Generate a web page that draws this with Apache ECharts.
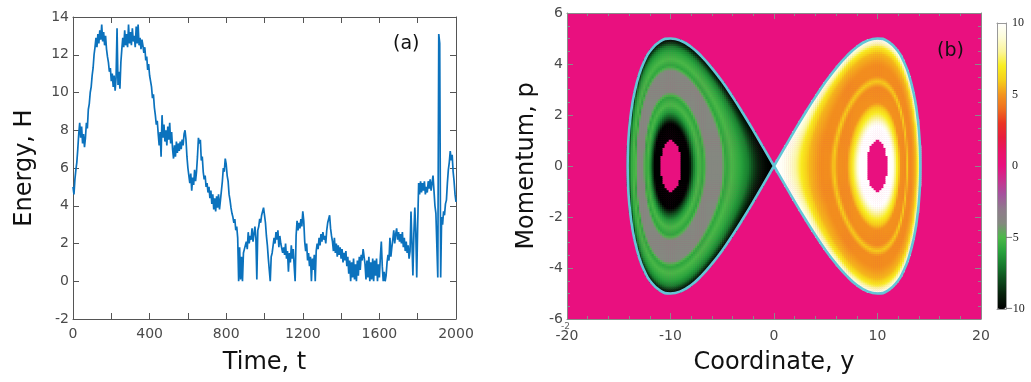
<!DOCTYPE html>
<html>
<head>
<meta charset="utf-8">
<script src="https://cdn.jsdelivr.net/npm/echarts@6/dist/echarts.min.js"></script>
<style>
  html, body { margin: 0; padding: 0; background: #fff; }
  #chart { width: 1031px; height: 382px; }
</style>
</head>
<body>
<div id="chart"></div>
<script>
// ---- panel (a): energy H against time t, one reading every 5 time units ----
const timeStep = 5
const energy = [
  5.0, 4.6, 5.4, 5.9, 6.3, 7.0, 7.8, 8.4, 7.6, 8.2, 7.3, 7.8, 7.1, 7.6, 8.4, 8.1, 9.1, 9.4, 10.0, 10.3,
  10.9, 11.3, 12.0, 12.4, 12.9, 12.4, 13.1, 12.6, 13.3, 12.8, 13.6, 12.7, 13.2, 12.5, 13.0, 12.3, 11.9, 11.6, 11.1, 11.3,
  10.6, 11.0, 10.3, 10.9, 10.1, 10.8, 13.4, 10.4, 11.1, 10.2, 11.6, 12.3, 12.9, 12.4, 13.3, 12.5, 13.1, 12.4, 13.6, 12.6,
  13.2, 12.5, 13.4, 12.7, 13.0, 12.4, 13.5, 12.6, 13.6, 12.5, 12.9, 12.3, 12.8, 12.5, 12.1, 12.4, 11.7, 11.9, 11.2, 11.5,
  10.9, 10.6, 10.3, 9.7, 9.9, 9.2, 8.8, 8.3, 8.5, 7.8, 7.2, 7.9, 6.6, 8.8, 7.6, 8.3, 7.4, 8.0, 7.2, 8.2,
  7.5, 8.4, 7.3, 7.9, 7.0, 6.5, 7.2, 6.6, 7.4, 6.8, 7.3, 6.9, 7.4, 7.0, 7.5, 7.2, 7.8, 8.0, 7.5, 6.6,
  6.0, 5.6, 5.2, 5.7, 4.8, 5.5, 5.1, 5.9, 5.3, 5.8, 6.6, 7.6, 7.3, 7.5, 6.4, 6.6, 5.8, 5.4, 5.6, 5.0,
  5.2, 4.7, 5.0, 4.4, 4.8, 4.1, 4.6, 3.8, 4.4, 3.7, 4.5, 3.9, 4.6, 3.8, 4.3, 4.2, 5.3, 6.0, 5.8, 6.5,
  6.2, 5.6, 5.3, 4.6, 4.3, 3.9, 3.6, 3.4, 3.1, 3.3, 2.7, 2.9, 2.3, 0.0, 1.8, 0.1, 1.3, 0.0, 1.5, 1.7,
  1.9, 2.1, 1.7, 2.6, 2.0, 2.4, 2.2, 2.8, 2.1, 2.5, 2.9, 2.3, 0.1, 2.7, 2.9, 3.3, 3.1, 3.5, 3.4, 3.9,
  3.5, 3.1, 2.4, 1.9, 1.2, 0.6, 0.0, 1.3, 1.5, 1.9, 2.3, 2.0, 2.6, 2.2, 2.7, 1.8, 2.4, 2.0, 2.1, 1.5,
  1.8, 1.4, 2.0, 1.2, 1.6, 0.5, 1.5, 1.0, 1.9, 1.2, 1.7, 0.8, 0.0, 2.4, 3.2, 2.7, 3.1, 2.8, 3.3, 2.9,
  3.7, 3.2, 2.1, 1.6, 2.0, 1.1, 1.5, 0.8, 1.3, 0.0, 1.2, 0.6, 1.4, 0.0, 1.6, 2.0, 1.7, 2.3, 1.9, 2.5,
  2.1, 2.6, 2.2, 2.4, 2.0, 2.7, 3.1, 3.3, 3.5, 2.8, 2.4, 2.1, 1.6, 2.3, 1.5, 2.0, 1.3, 1.9, 1.4, 1.8,
  1.2, 1.7, 1.0, 1.5, 1.1, 1.6, 0.8, 1.3, 0.4, 1.1, 0.0, 1.0, 0.2, 1.2, 0.1, 0.9, 0.0, 1.1, 0.3, 1.3,
  0.6, 1.4, 1.1, 1.7, 1.3, 0.9, 0.1, 1.1, 0.2, 1.3, 0.0, 1.0, 0.1, 1.2, 0.0, 1.1, 0.3, 1.2, 0.0, 0.9,
  0.2, 1.3, 2.1, 0.8, 0.0, 0.5, 0.0, 0.3, 1.0, 1.4, 1.1, 2.3, 1.3, 1.8, 2.2, 2.7, 2.0, 2.5, 2.8, 2.2,
  2.6, 2.1, 2.5, 2.0, 2.6, 1.8, 2.3, 1.6, 2.1, 1.5, 1.9, 1.2, 1.6, 3.7, 2.0, 0.3, 2.5, 3.9, 2.6, 0.2,
  3.0, 5.2, 4.6, 5.3, 4.7, 5.2, 4.8, 5.3, 4.6, 5.0, 4.7, 5.3, 4.9, 5.4, 4.8, 5.2, 5.6, 4.8, 4.0, 3.6,
  3.7, 0.2, 13.1, 12.6, 0.2, 3.4, 3.0, 3.7, 3.5, 4.1, 4.3, 5.2, 5.9, 6.3, 6.9, 6.4, 6.7, 5.8, 5.3, 4.6,
  4.2
]
const timeLabelStep = 400

// ---- panel (b): phase portrait ----
// upper half of the right separatrix lobe (coordinate y, momentum p), mirrored for the rest
const sepY = [0, 1, 2, 3, 4, 5, 6, 7, 8, 9, 10, 11, 12, 12.5, 13, 13.5, 13.8, 14, 14.1, 14.14]
const sepP = [0, 0.7, 1.4, 2.07, 2.71, 3.31, 3.84, 4.3, 4.67, 4.91, 5.0, 4.89, 4.49, 4.13, 3.62, 2.84, 2.13, 1.4, 0.77, 0]
const lobeCentre = 10
const lobeHeight = 5
// colour value against depth inside a lobe (0 = lobe centre, 1 = separatrix)
const leftLevels = [0.042, 0.11, 0.14, 0.18, 0.23, 0.29, 0.34, 0.56, 0.62, 0.70, 0.80, 0.88, 0.95, 1.0]
const leftValues = [-10, -10, -8.0, -6.2, -5.0, -5.8, -3.9, -3.9, -5.8, -5.0, -5.8, -6.8, -8.8, -10]
const rightLevels = [0.042, 0.10, 0.14, 0.19, 0.25, 0.38, 0.44, 0.50, 0.62, 0.78, 0.86, 0.93, 1.0]
const rightValues = [10, 10, 8.0, 6.6, 4.9, 4.8, 6.0, 4.8, 4.8, 5.6, 6.8, 8.5, 10]
// colour bar, one colour per unit from -10 to 10
const colorbarColors = [
  '#000000', '#07200c', '#0e4a1c', '#17782d', '#27a03c', '#4bb848', '#84897f',
  '#8f7a8c', '#a4539e', '#c8318f', '#e9107f', '#ea1268', '#e81d3d', '#eb3523',
  '#ef6e1f', '#f3951f', '#f6cf1a', '#f9ee22', '#fbf59a', '#fdfcd8', '#ffffff'
]
const colorbarTicks = [-10, -5, 0, 5, 10]

const FONT = 'DejaVu Sans'
const frameA = '#555'
const frameB = '#8a8a8a'
const tickText = '#4a4a4a'
const magenta = colorbarColors[10]

// heatmap cells
const cellW = 0.2
const cellH = 0.08
const cellX = []
const cellP = []
for (let i = 0; i < Math.round(40 / cellW); i++) cellX.push((-20 + (i + 0.5) * cellW).toFixed(2))
for (let j = 0; j < Math.round(12 / cellH); j++) cellP.push((-6 + (j + 0.5) * cellH).toFixed(2))

const E0 = lobeHeight * lobeHeight / 2
function depth(y, p) {
  const u = (y / lobeCentre) ** 2
  return (p * p / 2 + E0 * (u * u - 2 * u) + E0) / E0
}
function lookup(levels, values, s) {
  for (let k = 1; k < levels.length; k++) {
    if (s <= levels[k]) {
      const f = (s - levels[k - 1]) / (levels[k] - levels[k - 1])
      return values[k - 1] + f * (values[k] - values[k - 1])
    }
  }
  return values[values.length - 1]
}
const cells = []
cellX.forEach((xs, i) => {
  cellP.forEach((ps, j) => {
    const y = +xs, p = +ps
    const s = depth(y, p)
    if (s >= 1 || s < leftLevels[0]) return
    const v = y < 0 ? lookup(leftLevels, leftValues, s) : lookup(rightLevels, rightValues, s)
    cells.push([i, j, v])
  })
})

function lobe(sign) {
  const pts = sepY.map((y, k) => [sign * y, sepP[k]])
  for (let k = sepY.length - 2; k >= 0; k--) pts.push([sign * sepY[k], -sepP[k]])
  return pts
}

const energyData = energy.map((h, i) => [i * timeStep, h])

const chart = echarts.init(document.getElementById('chart'), null, { renderer: 'canvas' })

const tickLabel = { color: tickText, fontSize: 14, fontFamily: FONT }
const nameStyle = { color: '#111', fontSize: 24, fontFamily: FONT }
const line = (color) => ({ onZero: false, lineStyle: { color } })
const ticks = (color) => ({ show: true, inside: true, length: 6, lineStyle: { color } })
const minor = (n) => ({ show: true, splitNumber: n, length: 3, lineStyle: { color: frameB } })

chart.setOption({
  animation: false,
  grid: [
    { left: 73, top: 17, width: 383, height: 302 },
    { left: 567, top: 13, width: 414, height: 306, show: true, backgroundColor: magenta, borderWidth: 0 },
    { left: 997, top: 23, width: 9, height: 286 }
  ],
  xAxis: [
    {
      gridIndex: 0, type: 'value', min: 0, max: 2000, interval: 200, position: 'bottom',
      name: 'Time, t', nameLocation: 'middle', nameGap: 32, nameTextStyle: nameStyle,
      axisLine: line(frameA), axisTick: ticks(frameA),
      axisLabel: { ...tickLabel, margin: 8, formatter: (v) => (v % timeLabelStep === 0 ? String(v) : '') },
      splitLine: { show: false }
    },
    {
      gridIndex: 0, type: 'value', min: 0, max: 2000, interval: 200, position: 'top',
      axisLine: line(frameA), axisTick: ticks(frameA),
      axisLabel: { show: false }, splitLine: { show: false }
    },
    {
      gridIndex: 1, type: 'value', min: -20, max: 20, interval: 10, position: 'bottom',
      name: 'Coordinate, y', nameLocation: 'middle', nameGap: 32, nameTextStyle: nameStyle,
      axisLine: line(frameB), axisTick: ticks(frameB), minorTick: minor(5),
      axisLabel: { ...tickLabel, margin: 10 },
      splitLine: { show: false }
    },
    {
      gridIndex: 1, type: 'value', min: -20, max: 20, interval: 10, position: 'top',
      axisLine: line(frameB), axisTick: ticks(frameB), minorTick: minor(5),
      axisLabel: { show: false }, splitLine: { show: false }
    },
    { gridIndex: 1, type: 'category', data: cellX, show: false },
    {
      gridIndex: 2, type: 'value', min: 0, max: 1, position: 'bottom', z: 10,
      axisLine: line('#999'), axisTick: { show: false }, axisLabel: { show: false }, splitLine: { show: false }
    },
    {
      gridIndex: 2, type: 'value', min: 0, max: 1, position: 'top', z: 10,
      axisLine: line('#999'), axisTick: { show: false }, axisLabel: { show: false }, splitLine: { show: false }
    }
  ],
  yAxis: [
    {
      gridIndex: 0, type: 'value', min: -2, max: 14, interval: 2, position: 'left',
      name: 'Energy, H', nameLocation: 'middle', nameGap: 36, nameTextStyle: nameStyle,
      axisLine: { show: true, ...line(frameA) }, axisTick: ticks(frameA),
      axisLabel: { ...tickLabel, margin: 4 },
      splitLine: { show: false }
    },
    {
      gridIndex: 0, type: 'value', min: -2, max: 14, interval: 2, position: 'right',
      axisLine: { show: true, ...line(frameA) }, axisTick: ticks(frameA),
      axisLabel: { show: false }, splitLine: { show: false }
    },
    {
      gridIndex: 1, type: 'value', min: -6, max: 6, interval: 2, position: 'left',
      name: 'Momentum, p', nameLocation: 'middle', nameGap: 28, nameTextStyle: nameStyle,
      axisLine: { show: true, ...line(frameB) }, axisTick: ticks(frameB), minorTick: minor(4),
      axisLabel: { ...tickLabel, margin: 4 },
      splitLine: { show: false }
    },
    {
      gridIndex: 1, type: 'value', min: -6, max: 6, interval: 2, position: 'right',
      axisLine: { show: true, ...line(frameB) }, axisTick: ticks(frameB), minorTick: minor(4),
      axisLabel: { show: false }, splitLine: { show: false }
    },
    { gridIndex: 1, type: 'category', data: cellP, show: false },
    {
      gridIndex: 2, type: 'value', min: -10, max: 10, interval: 5, position: 'right', offset: 0, z: 10,
      axisLine: { show: true, ...line('#999') },
      axisTick: { show: false },
      axisLabel: {
        color: '#222', fontSize: 12, fontFamily: 'Liberation Serif', margin: 6,
        formatter: (v) => (colorbarTicks.includes(v) && v >= 0 ? String(v) : '')
      },
      splitLine: { show: false }
    },
    {
      gridIndex: 2, type: 'value', min: -10, max: 10, interval: 5, position: 'left', offset: 0, z: 10,
      axisLine: { show: true, ...line('#999') }, axisTick: { show: false },
      axisLabel: {
        color: '#222', fontSize: 12, fontFamily: 'Liberation Serif', margin: -9, align: 'left',
        formatter: (v) => (colorbarTicks.includes(v) && v < 0 ? '\u2212' + Math.abs(v) : '')
      },
      splitLine: { show: false }
    }
  ],
  visualMap: {
    type: 'continuous', seriesIndex: 1, dimension: 2,
    min: -10, max: 10, calculable: false, show: true,
    left: 997, top: 23, itemWidth: 9, itemHeight: 286, padding: 0,
    inRange: { color: colorbarColors }
  },
  graphic: [
    { type: 'text', left: 393, top: 35, style: { text: '(a)', fontSize: 19, fontFamily: FONT, fill: '#111' } },
    { type: 'text', left: 937, top: 42, style: { text: '(b)', fontSize: 19, fontFamily: FONT, fill: '#111' } },
    { type: 'text', left: 561, top: 322, style: { text: '-2', fontSize: 9, fontFamily: FONT, fill: '#666' } }
  ],
  series: [
    {
      type: 'line', xAxisIndex: 0, yAxisIndex: 0, data: energyData,
      showSymbol: false, lineStyle: { color: '#0b72bd', width: 1.7 }, silent: true
    },
    {
      type: 'heatmap', xAxisIndex: 4, yAxisIndex: 4, data: cells,
      progressive: 0, silent: true, emphasis: { disabled: true }
    },
    {
      type: 'line', xAxisIndex: 2, yAxisIndex: 2, data: lobe(-1), smooth: true,
      showSymbol: false, lineStyle: { color: '#63c6d6', width: 2.6 }, silent: true, z: 5
    },
    {
      type: 'line', xAxisIndex: 2, yAxisIndex: 2, data: lobe(1), smooth: true,
      showSymbol: false, lineStyle: { color: '#63c6d6', width: 2.6 }, silent: true, z: 5
    }
  ]
})
</script>
</body>
</html>
